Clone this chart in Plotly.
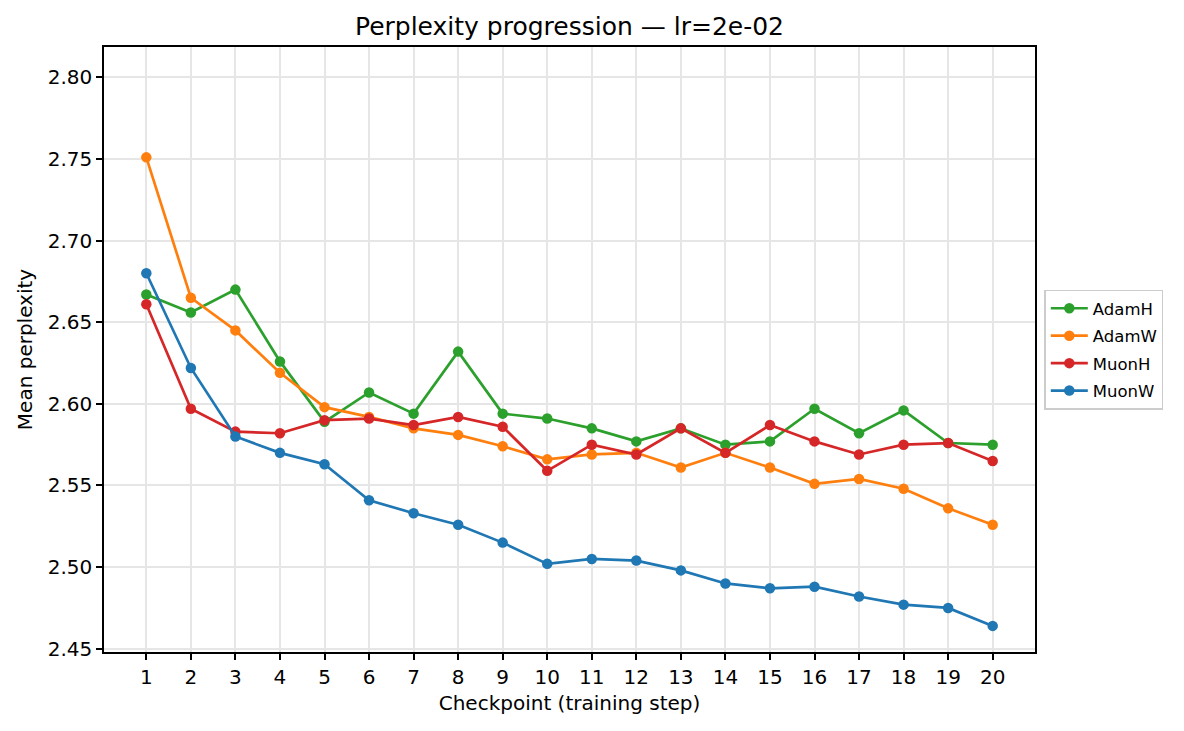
import plotly.graph_objects as go

checkpoints = list(range(1, 21))

adamh = [2.667, 2.656, 2.670, 2.626, 2.589, 2.607, 2.594, 2.632, 2.594, 2.591,
         2.585, 2.577, 2.585, 2.575, 2.577, 2.597, 2.582, 2.596, 2.576, 2.575]
adamw = [2.751, 2.665, 2.645, 2.619, 2.598, 2.592, 2.585, 2.581, 2.574, 2.566,
         2.569, 2.570, 2.561, 2.570, 2.561, 2.551, 2.554, 2.548, 2.536, 2.526]
muonh = [2.661, 2.597, 2.583, 2.582, 2.590, 2.591, 2.587, 2.592, 2.586, 2.559,
         2.575, 2.569, 2.585, 2.570, 2.587, 2.577, 2.569, 2.575, 2.576, 2.565]
muonw = [2.680, 2.622, 2.580, 2.570, 2.563, 2.541, 2.533, 2.526, 2.515, 2.502,
         2.505, 2.504, 2.498, 2.490, 2.487, 2.488, 2.482, 2.477, 2.475, 2.464]

series = [
    ("AdamH", adamh, "#2ca02c"),
    ("AdamW", adamw, "#ff7f0e"),
    ("MuonH", muonh, "#d62728"),
    ("MuonW", muonw, "#1f77b4"),
]

fig = go.Figure()
for name, vals, color in series:
    fig.add_trace(go.Scatter(
        x=checkpoints, y=vals, name=name, mode="lines+markers",
        legendgroup=name,
        line=dict(color=color, width=2.7),
        marker=dict(color=color, size=10.5),
    ))

axis_style = dict(
    showline=True, linecolor="black", linewidth=1.6, mirror=True,
    ticks="outside", ticklen=6, tickwidth=1.6, tickcolor="black",
    showgrid=True, gridcolor="#e6e6e6", gridwidth=1.5,
    zeroline=False, tickfont=dict(size=20, color="black"),
)

# page body has an 8px margin, so margins are shifted to land the plot area where it belongs
fig.update_layout(
    width=1184, height=731,
    paper_bgcolor="white", plot_bgcolor="white",
    font=dict(family="DejaVu Sans", color="black"),
    title=dict(text="Perplexity progression — lr=2e-02", x=0.5, xref="paper", xanchor="center",
               y=0.975, yanchor="middle", font=dict(size=25)),
    margin=dict(l=96, r=157, t=39, b=87),
    xaxis=dict(axis_style, range=[0.05, 20.95], tickmode="array", tickvals=checkpoints,
               title=dict(text="Checkpoint (training step)", font=dict(size=20), standoff=8)),
    yaxis=dict(axis_style, range=[2.448, 2.8186], dtick=0.05, tickformat=".2f",
               title=dict(text="Mean perplexity", font=dict(size=20), standoff=10)),
    legend=dict(x=1.01, y=0.5, xanchor="left", yanchor="middle",
                bordercolor="#cccccc", borderwidth=1.5, bgcolor="white",
                font=dict(size=16.5), traceorder="grouped", tracegroupgap=3,
                itemwidth=37),
)

fig.write_html("out.html")
